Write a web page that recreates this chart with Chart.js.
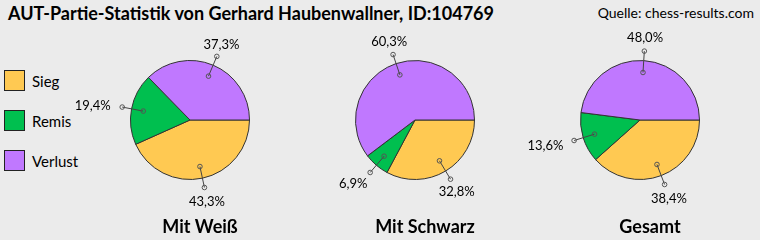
<!DOCTYPE html>
<html>
<head>
<meta charset="utf-8">
<script src="https://cdn.jsdelivr.net/npm/chart.js@4/dist/chart.umd.min.js"></script>
<style>
  html, body { margin: 0; padding: 0; }
  body { width: 760px; height: 240px; background: #ebebeb; position: relative; overflow: hidden; font-family: Lato, "Open Sans", sans-serif; color: #000; }
  #title { position: absolute; left: 8px; top: 2px; font-weight: bold; font-size: 18px; white-space: nowrap; }
  #source { position: absolute; right: 6px; top: 4px; font-size: 14px; white-space: nowrap; }
  .wrap { position: absolute; top: 0; width: 240px; height: 240px; }
  #legend { position: absolute; left: 4px; top: 70px; }
  .item { position: relative; height: 40px; }
  .box { position: absolute; left: 0; top: 0; width: 19px; height: 19px; border: 1px solid #222; }
  .lbl { position: absolute; left: 28px; top: 1px; font-size: 15px; line-height: 20px; white-space: nowrap; }
</style>
</head>
<body>
<div id="title"></div>
<div id="source"></div>
<div id="legend"></div>
<div class="wrap" style="left:70px"><canvas id="c0" width="240" height="240"></canvas></div>
<div class="wrap" style="left:295px"><canvas id="c1" width="240" height="240"></canvas></div>
<div class="wrap" style="left:520px"><canvas id="c2" width="240" height="240"></canvas></div>
<script>
const mainTitle = "AUT-Partie-Statistik von Gerhard Haubenwallner, ID:104769";
const sourceText = "Quelle: chess-results.com";
const categories = ["Sieg", "Remis", "Verlust"];
const colors = ["#FFC952", "#00BF4F", "#C078FF"];
const pieTitles = ["Mit Weiß", "Mit Schwarz", "Gesamt"];
const whiteValues = [43.3, 19.4, 37.3];
const blackValues = [32.8, 6.9, 60.3];
const totalValues = [38.4, 13.6, 48.0];
const allValues = [whiteValues, blackValues, totalValues];

document.getElementById('title').textContent = mainTitle;
document.getElementById('source').textContent = sourceText;
const legend = document.getElementById('legend');
categories.forEach((c, i) => {
  const it = document.createElement('div'); it.className = 'item';
  const b = document.createElement('div'); b.className = 'box'; b.style.background = colors[i];
  const l = document.createElement('div'); l.className = 'lbl'; l.textContent = c;
  it.appendChild(b); it.appendChild(l); legend.appendChild(it);
});

const fmt = v => v.toFixed(1).replace('.', ',') + '%';

const leaderPlugin = {
  id: 'leaders',
  afterDatasetsDraw(chart, args, opts) {
    const ctx = chart.ctx;
    const meta = chart.getDatasetMeta(0);
    const data = chart.data.datasets[0].data;
    ctx.save();
    ctx.font = '13px Lato, "Open Sans", sans-serif';
    meta.data.forEach((arc, i) => {
      const mid = (arc.startAngle + arc.endAngle) / 2;
      const r = arc.outerRadius;
      const c = Math.cos(mid), s = Math.sin(mid);
      const ix = arc.x + c * r * 0.8, iy = arc.y + s * r * 0.8;
      const ox = arc.x + c * r * 1.16, oy = arc.y + s * r * 1.16;
      ctx.strokeStyle = '#444';
      ctx.lineWidth = 1;
      ctx.beginPath(); ctx.moveTo(ix, iy); ctx.lineTo(ox, oy); ctx.stroke();
      [[ix, iy], [ox, oy]].forEach(([px, py]) => {
        ctx.beginPath(); ctx.arc(px, py, 2.3, 0, Math.PI * 2);
        ctx.strokeStyle = '#555'; ctx.stroke();
      });
      const txt = fmt(data[i]);
      const w = ctx.measureText(txt).width;
      const dx = Math.abs(c) > 0.6 ? c * (w / 2 + 12) : c * 12;
      const dy = s * 14 + 1;
      ctx.fillStyle = '#000';
      ctx.textAlign = 'center';
      ctx.textBaseline = 'middle';
      ctx.fillText(txt, ox + dx, oy + dy);
    });
    ctx.font = 'bold 18px Lato, "Open Sans", sans-serif';
    ctx.textAlign = 'center';
    ctx.textBaseline = 'middle';
    ctx.fillStyle = '#000';
    ctx.fillText(opts.label, meta.data[0].x + 10, 227);
    ctx.restore();
  }
};

allValues.forEach((vals, k) => {
  new Chart(document.getElementById('c' + k), {
    type: 'pie',
    data: {
      labels: categories,
      datasets: [{ data: vals, backgroundColor: colors, borderColor: '#333', borderWidth: 1 }]
    },
    options: {
      responsive: false,
      animation: false,
      rotation: 90,
      layout: { padding: { left: 60, right: 60, top: 60, bottom: 60 } },
      plugins: {
        legend: { display: false },
        tooltip: { enabled: false },
        leaders: { label: pieTitles[k] }
      }
    },
    plugins: [leaderPlugin]
  });
});
</script>
</body>
</html>
